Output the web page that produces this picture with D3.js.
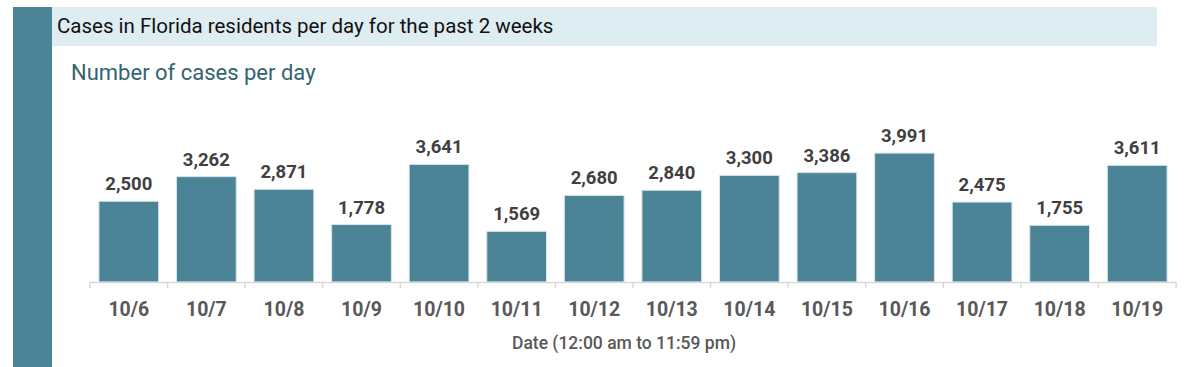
<!DOCTYPE html>
<html>
<head>
  <meta charset="utf-8">
  <style>
  body { margin: 0; background: #fff; }
  text { font-family: Roboto, "Liberation Sans", sans-serif; }
  </style>
  <script src="https://cdn.jsdelivr.net/npm/d3@7"></script>
</head>
<body>
  <script>
  // data
  var dates = ["10/6", "10/7", "10/8", "10/9", "10/10", "10/11", "10/12",
               "10/13", "10/14", "10/15", "10/16", "10/17", "10/18", "10/19"];
  var cases = [2500, 3262, 2871, 1778, 3641, 1569, 2680,
               2840, 3300, 3386, 3991, 2475, 1755, 3611];
  var titleText = "Cases in Florida residents per day for the past 2 weeks";
  var subtitleText = "Number of cases per day";
  var xAxisTitle = "Date (12:00 am to 11:59 pm)";

  var canvasWidth = 1200;
  var canvasHeight = 367;
  var teal = "#4b8397";

  var svg = d3.select("body")
                .append("svg")
                .attr("width", canvasWidth)
                .attr("height", canvasHeight);

  // side bar + header band
  svg.append("rect")
      .attr("x", 13).attr("y", 7)
      .attr("width", 39).attr("height", canvasHeight - 7)
      .attr("fill", teal);

  svg.append("rect")
      .attr("x", 52).attr("y", 7)
      .attr("width", 1105).attr("height", 39)
      .attr("fill", "#ddedf2");

  svg.append("text")
      .attr("x", 57).attr("y", 33)
      .attr("font-size", 20.5)
      .attr("fill", "#111")
      .text(titleText);

  svg.append("text")
      .attr("x", 71).attr("y", 80)
      .attr("font-size", 22)
      .attr("fill", "#33636f")
      .text(subtitleText);

  // scales
  var x = d3.scaleBand()
      .domain(dates)
      .range([90, 1176])
      .paddingInner(0.23)
      .paddingOuter(0.115);

  var y = d3.scaleLinear()
      .domain([0, 5000])
      .range([282, 120.5]);

  // bars
  svg.append("g")
      .selectAll("rect")
      .data(cases)
      .enter().append("rect")
      .attr("x", function(d, i) { return x(dates[i]); })
      .attr("y", function(d) { return y(d); })
      .attr("width", x.bandwidth())
      .attr("height", function(d) { return y(0) - y(d); })
      .attr("fill", teal)
      .attr("stroke", "#d6e6ec")
      .attr("stroke-width", 1);

  // value labels
  svg.append("g")
      .selectAll("text")
      .data(cases)
      .enter().append("text")
      .attr("x", function(d, i) { return x(dates[i]) + x.bandwidth() / 2; })
      .attr("y", function(d) { return y(d) - 11; })
      .attr("text-anchor", "middle")
      .attr("font-size", 18.5)
      .attr("font-weight", "bold")
      .attr("fill", "#404040")
      .text(function(d) { return d3.format(",")(d); });

  // x axis with ticks between categories
  var axis = svg.append("g");
  axis.append("line")
      .attr("x1", 90).attr("x2", 1176)
      .attr("y1", 282.5).attr("y2", 282.5)
      .attr("stroke", "#d9d9d9")
      .attr("stroke-width", 1.5);

  var step = x.step();
  axis.selectAll("line.tick")
      .data(d3.range(dates.length + 1))
      .enter().append("line")
      .attr("class", "tick")
      .attr("x1", function(i) { return 90 + i * step; })
      .attr("x2", function(i) { return 90 + i * step; })
      .attr("y1", 282).attr("y2", 288)
      .attr("stroke", "#d9d9d9")
      .attr("stroke-width", 1.5);

  axis.selectAll("text")
      .data(dates)
      .enter().append("text")
      .attr("x", function(d) { return x(d) + x.bandwidth() / 2; })
      .attr("y", 316)
      .attr("text-anchor", "middle")
      .attr("font-size", 19.5)
      .attr("font-weight", "bold")
      .attr("fill", "#595959")
      .text(function(d) { return d; });

  svg.append("text")
      .attr("x", 624).attr("y", 349)
      .attr("text-anchor", "middle")
      .attr("font-size", 17.5)
      .attr("font-weight", 500)
      .attr("fill", "#595959")
      .text(xAxisTitle);
  </script>
</body>
</html>
